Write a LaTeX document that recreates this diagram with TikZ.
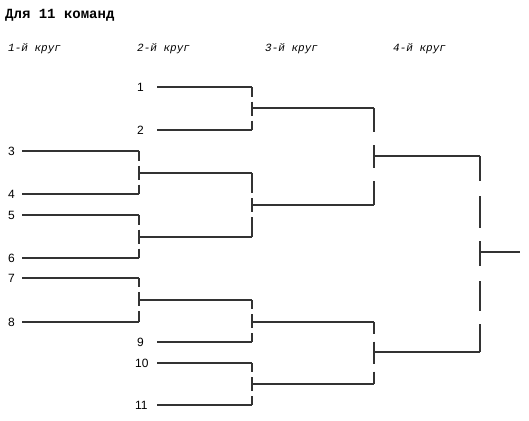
\documentclass[tikz,border=0pt]{standalone}
\usepackage{fontspec}
\setmainfont{Liberation Serif}
\newfontfamily\titlefont{Liberation Mono}
\newfontfamily\numfont{Liberation Sans}
\usetikzlibrary{positioning}
\tikzset{line/.style = {draw = black!80, line width = 1.3pt},
         vsplit/.style n args = {3}{line, dash pattern = on #1pt off #2pt on #3pt off #2pt on 300pt},
         vlong/.style = {line, dash pattern = on 25pt off 15pt on 32pt off 13pt on 25pt off 15pt on 30pt off 13pt on 29pt},
         num/.style = {anchor = west, inner sep = 0, font = \numfont\fontsize{12}{12}\selectfont},
         head/.style = {anchor = base west, inner sep = 0, font = \titlefont\itshape\fontsize{11}{11}\selectfont}}

\begin{document}
\begin{tikzpicture}[x = 1pt, y = -1pt]
          \useasboundingbox (0, 0) rectangle (529, 420);

          \node [anchor = base west, inner sep = 0, font = \titlefont\bfseries\fontsize{14}{14}\selectfont] (title) at (5, 19) {Для 11 команд};
          \node [head] (r1) at (8, 52) {1-й круг};
          \node [head] (r2) at (137, 52) {2-й круг};
          \node [head] (r3) at (265, 52) {3-й круг};
          \node [head] (r4) at (393, 52) {4-й круг};

          % numbers
          \node [num] (n1) at (137, 87) {1};
          \node [num] (n2) at (137, 130) {2};
          \node [num] (n3) at (8, 151) {3};
          \node [num] (n4) at (8, 194) {4};
          \node [num] (n5) at (8, 215) {5};
          \node [num] (n6) at (8, 258) {6};
          \node [num] (n7) at (8, 278) {7};
          \node [num] (n8) at (8, 322) {8};
          \node [num] (n9) at (137, 342) {9};
          \node [num] (n10) at (135, 363) {10};
          \node [num] (n11) at (135, 405) {11};

          % line starts
          \coordinate (s1) at (157, 87);
          \coordinate (s2) at (157, 130);
          \coordinate (s3) at (22, 151);
          \coordinate (s4) at (22, 194);
          \coordinate (s5) at (22, 215);
          \coordinate (s6) at (22, 258);
          \coordinate (s7) at (22, 278);
          \coordinate (s8) at (22, 322);
          \coordinate (s9) at (157, 342);
          \coordinate (s10) at (157, 363);
          \coordinate (s11) at (157, 405);

          % joins
          \coordinate (j34) at (139, 173);
          \coordinate (j56) at (139, 237);
          \coordinate (j78) at (139, 300);
          \coordinate (j12) at (252, 108);
          \coordinate (j3456) at (252, 205);
          \coordinate (j789) at (252, 322);
          \coordinate (j1011) at (252, 384);
          \coordinate (k1) at (374, 156);
          \coordinate (k2) at (374, 352);
          \coordinate (fin) at (480, 252);
          \coordinate (out) at (520, 252);

          \foreach \s/\j in {s3/j34, s4/j34, s5/j56, s6/j56, s7/j78, s8/j78, s1/j12, s2/j12, s9/j789, s10/j1011, s11/j1011}
            \draw [line] (\s) -- (\s -| \j);

          \draw [vsplit = {9.5}{5}{14}] (s3 -| j34) -- (s4 -| j34);
          \draw [vsplit = {9.5}{5}{14}] (s5 -| j56) -- (s6 -| j56);
          \draw [vsplit = {9}{5}{14}] (s7 -| j78) -- (s8 -| j78);
          \draw [vsplit = {9.5}{5}{14}] (s1 -| j12) -- (s2 -| j12);

          \draw [line] (j34) -- (j34 -| j3456);
          \draw [line] (j56) -- (j56 -| j3456);
          \draw [line] (j78) -- (j78 -| j789);
          \draw [vsplit = {20}{5}{14}] (j34 -| j3456) -- (j56 -| j3456);
          \draw [vsplit = {9}{5}{14}] (j78 -| j789) -- (s9 -| j789);
          \draw [vsplit = {9}{5}{14}] (s10 -| j1011) -- (s11 -| j1011);

          \foreach \j/\k in {j12/k1, j3456/k1, j789/k2, j1011/k2}
            \draw [line] (\j) -- (\j -| \k);
          \draw [vsplit = {24}{13}{23}] (j12 -| k1) -- (j3456 -| k1);
          \draw [vsplit = {11.5}{8}{22}] (j789 -| k2) -- (j1011 -| k2);

          \draw [line] (k1) -- (k1 -| fin);
          \draw [line] (k2) -- (k2 -| fin);
          \draw [vlong] (k1 -| fin) -- (k2 -| fin);
          \draw [line] (fin) -- (out);
        \end{tikzpicture}
\end{document}
